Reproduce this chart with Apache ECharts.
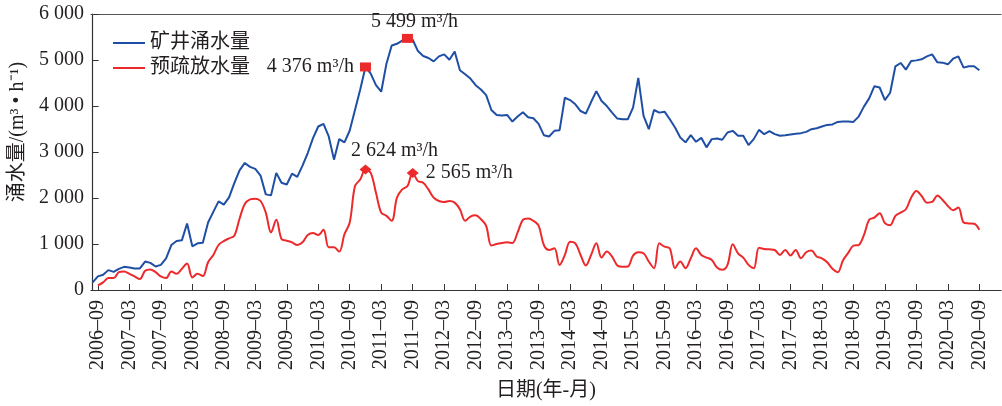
<!DOCTYPE html>
<html>
<head>
<meta charset="utf-8">
<script src="https://cdn.jsdelivr.net/npm/echarts@6/dist/echarts.min.js"></script>
<style>html,body{margin:0;padding:0;background:#fff}#c{width:1002px;height:406px}</style>
</head>
<body>
<div id="c"></div>
<script>
// Monthly series from 2006-08 (index 0) to 2020-09
var startYear = 2006, startMonth = 8;
var mineInflow = [166,296,330,432,395,460,503,490,468,468,619,590,511,546,690,978,1064,1079,1446,950,
1014,1029,1467,1698,1927,1856,2014,2324,2600,2762,2676,2633,2489,2079,2057,2546,2331,2294,2531,2460,
2704,2978,3302,3554,3611,3338,2834,3280,3209,3468,3913,4359,4849,4704,4452,4310,4920,5315,5352,5423,
5470,5440,5194,5086,5043,4970,5079,5122,5007,5186,4776,4690,4597,4452,4359,4237,3913,3805,3791,3805,
3662,3770,3863,3755,3733,3610,3366,3338,3460,3474,4180,4129,4036,3891,3834,4086,4323,4107,3999,3856,
3727,3712,3712,3964,4612,3783,3496,3913,3856,3877,3712,3532,3316,3209,3366,3222,3308,3101,3280,3295,
3266,3424,3460,3352,3352,3151,3280,3481,3388,3453,3388,3352,3366,3381,3395,3410,3438,3496,3517,3554,
3589,3600,3654,3662,3662,3654,3770,3986,4165,4431,4402,4129,4288,4863,4935,4791,4978,4992,5014,5079,
5122,4949,4942,4906,5028,5079,4834,4863,4863,4776];
var drainage = [null,100,166,259,259,388,403,352,295,237,417,446,388,295,259,403,352,460,576,274,
352,302,604,762,978,1064,1122,1180,1550,1870,1970,1985,1935,1683,1252,1525,1108,1072,1036,978,
1036,1194,1237,1194,1310,928,928,835,1215,1467,2259,2402,2618,2546,2115,1683,1612,1504,2007,2186,
2259,2546,2367,2331,2186,2007,1935,1914,1935,1899,1755,1504,1597,1625,1539,1396,965,999,1021,1036,
1020,1252,1525,1554,1504,1400,978,870,906,546,762,1050,1014,762,532,762,1014,705,835,727,
532,503,510,748,820,798,619,475,1014,942,906,475,619,475,690,906,762,705,654,489,
439,546,993,798,705,546,475,920,892,885,870,762,870,748,870,690,820,856,727,690,
604,460,388,640,806,964,978,1194,1525,1575,1669,1453,1410,1612,1683,1755,2007,2151,2043,1899,
1914,2057,1957,1828,1733,1791,1467,1446,1439,1310];
var tickLabels = ['2006–09','2007–03','2007–09','2008–03','2008–09','2009–03','2009–09','2010–03','2010–09',
'2011–03','2011–09','2012–03','2012–09','2013–03','2013–09','2014–03','2014–09','2015–03','2015–09',
'2016–03','2016–09','2017–03','2017–09','2018–03','2018–09','2019–03','2019–09','2020–03','2020–09'];
var seriesNames = ['矿井涌水量','预疏放水量'];
var minePeaks = [{month:'2010–12', label:'4 376 m³/h'}, {month:'2011–08', label:'5 499 m³/h'}];
var drainPeaks = [{month:'2010–12', label:'2 624 m³/h'}, {month:'2011–09', label:'2 565 m³/h'}];

function monthLabel(i){ // i = index into arrays
  var t = (startMonth - 1) + i;
  var y = startYear + Math.floor(t/12), m = t%12 + 1;
  return y + '–' + (m<10?'0':'') + m;
}
var months = mineInflow.map(function(_,i){return monthLabel(i);});
function idx(label){ return months.indexOf(label); }
var mineData = mineInflow.map(function(v,i){return [i, v];});
var drainData = drainage.map(function(v,i){return [i, v];});
var tickPos = tickLabels.map(idx);

var serif = '"Liberation Serif", "Times New Roman", "Noto Sans CJK SC"';
var txt = '#231f20';
var blue = '#1f4fa5', red = '#ec2a2c';

var chart = echarts.init(document.getElementById('c'), null, {renderer:'canvas'});
var slope = 883.3/168;
var xMin = 1 - 7/slope;
var xMax = xMin + 912/slope;
chart.setOption({
  animation:false,
  backgroundColor:'#fff',
  textStyle:{fontFamily:serif},
  grid:{left:89, right:1, top:14, bottom:114, containLabel:false},
  legend:{
    orient:'vertical', left:108, top:28, itemGap:5, itemWidth:32, itemHeight:2,
    icon:'rect',
    data:seriesNames,
    textStyle:{fontSize:20, color:txt, fontFamily:serif}
  },
  xAxis:[{
    type:'value', min:xMin, max:xMax,
    splitLine:{show:false},
    axisLine:{lineStyle:{color:'#333', width:1.2}},
    axisTick:{inside:true, length:6, customValues:tickPos, lineStyle:{color:'#333'}},
    axisLabel:{customValues:tickPos, rotate:90, margin:10, fontSize:20, color:txt, fontFamily:serif,
      formatter:function(v){ return months[Math.round(v)] || ''; }},
    name:'日期(年-月)', nameLocation:'middle', nameGap:91,
    nameTextStyle:{fontSize:20, color:txt, fontFamily:serif}
  },{
    type:'value', position:'top', min:xMin, max:xMax,
    axisLine:{show:true, onZero:false, lineStyle:{color:'#555', width:1.2}},
    axisTick:{show:false}, axisLabel:{show:false}, splitLine:{show:false}
  }],
  yAxis:{
    type:'value', min:0, max:6000, interval:1000,
    splitLine:{show:false},
    axisLine:{show:true, lineStyle:{color:'#333', width:1.2}},
    axisTick:{show:true, inside:true, length:6, lineStyle:{color:'#333'}},
    axisLabel:{margin:7, fontSize:20, color:txt, fontFamily:serif,
      formatter:function(v){ return String(v).replace(/\B(?=(\d{3})+(?!\d))/g,' '); }},
    name:'涌水量/(m³ • h⁻¹)', nameLocation:'middle', nameGap:60,
    nameTextStyle:{fontSize:20, color:txt, fontFamily:serif, padding:[0,0,0,40]}
  },
  series:[{
    name:seriesNames[0], type:'line', data:mineData, symbol:'none', smooth:false,
    lineStyle:{color:blue, width:2}, itemStyle:{color:blue},
    markPoint:{
      symbol:'rect', symbolSize:[11,9], itemStyle:{color:red},
      label:{color:txt, fontSize:20, fontFamily:serif},
      data:[
        {coord:[idx(minePeaks[0].month), mineInflow[idx(minePeaks[0].month)]],
          label:{formatter:minePeaks[0].label, position:'left', distance:6}},
        {coord:[idx(minePeaks[1].month), mineInflow[idx(minePeaks[1].month)]],
          label:{formatter:minePeaks[1].label, position:'top', distance:2, offset:[7,0]}}
      ]
    }
  },{
    name:seriesNames[1], type:'line', data:drainData, symbol:'none', smooth:0.35,
    lineStyle:{color:red, width:2}, itemStyle:{color:red},
    markPoint:{
      symbol:'diamond', symbolSize:[12,10], itemStyle:{color:red},
      label:{color:txt, fontSize:20, fontFamily:serif},
      data:[
        {coord:[idx(drainPeaks[0].month), drainage[idx(drainPeaks[0].month)]],
          label:{formatter:drainPeaks[0].label, position:'top', distance:4, offset:[29,0]}},
        {coord:[idx(drainPeaks[1].month), drainage[idx(drainPeaks[1].month)]],
          label:{formatter:drainPeaks[1].label, position:'right', distance:7}}
      ]
    }
  }]
});
</script>
</body>
</html>
